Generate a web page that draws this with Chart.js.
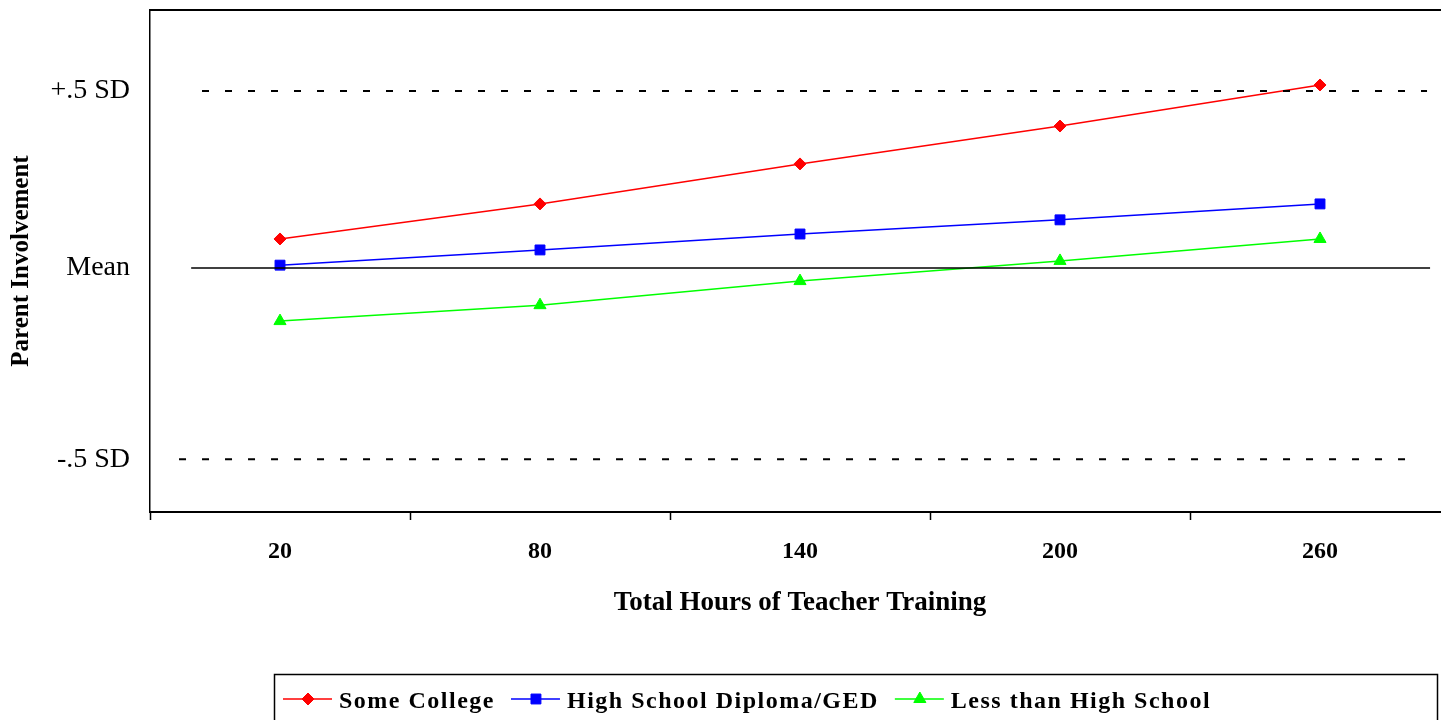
<!DOCTYPE html>
<html>
<head>
<meta charset="utf-8">
<script src="https://cdn.jsdelivr.net/npm/chart.js@4/dist/chart.umd.min.js"></script>
<style>
    html, body { margin: 0; padding: 0; background: #fff; overflow: hidden; }
    #wrap { width: 1458px; height: 720px; }
</style>
</head>
<body>
<div id="wrap"><canvas id="trainingChart" width="1458" height="720"></canvas></div>
<script>
// hours on the x axis
const hours = [20, 80, 140, 200, 260];

// parent involvement, in SD units from the mean
const someCollege = [0.082, 0.181, 0.294, 0.401, 0.517];
const highSchool = [0.008, 0.051, 0.096, 0.136, 0.181];
const lessThanHS = [-0.150, -0.105, -0.037, 0.020, 0.082];

const seriesNames = ['Some College', 'High School Diploma/GED', 'Less than High School'];

// y axis labels
const yTickValues = [0.5, 0, -0.54];
const yTickLabels = ['+.5 SD', 'Mean', '-.5 SD'];

// reference lines: level, start hour, end hour
const refLevels = [0.5, 0, -0.54];
const refFrom = [2, -0.5, -3.3];
const refTo = [284.7, 285.4, 280.8];

const serif = "'Liberation Serif', 'Times New Roman', serif";

function toPoints(values) {
    return values.map((v, i) => ({ x: hours[i], y: v }));
}

function refLine(i) {
    return {
        data: [{ x: refFrom[i], y: refLevels[i] }, { x: refTo[i], y: refLevels[i] }],
        borderColor: '#000',
        borderWidth: refLevels[i] === 0 ? 1.5 : 2,
        borderDash: refLevels[i] === 0 ? [] : [7, 16],
        pointRadius: 0,
        xAxisID: 'x2',
        isRef: true
    };
}

function series(i, values, color, style, radius) {
    return {
        label: seriesNames[i],
        data: toPoints(values),
        borderColor: color,
        backgroundColor: color,
        borderWidth: 1.5,
        pointStyle: style,
        pointRadius: radius,
        pointBorderWidth: 1,
        xAxisID: 'x2'
    };
}

// top border of the plot frame
const frameTop = {
    id: 'frameTop',
    afterDraw(chart) {
        const { ctx, chartArea } = chart;
        ctx.save();
        ctx.strokeStyle = '#000';
        ctx.lineWidth = 2;
        ctx.beginPath();
        ctx.moveTo(chartArea.left - 1, chartArea.top);
        ctx.lineTo(chartArea.right, chartArea.top);
        ctx.stroke();
        ctx.restore();
    }
};

// boxed legend with a line and marker per series
const lineLegend = {
    id: 'lineLegend',
    afterDraw(chart) {
        const ctx = chart.ctx;
        const items = chart.data.datasets.filter(d => !d.isRef);
        ctx.save();
        ctx.strokeStyle = '#000';
        ctx.lineWidth = 1.5;
        ctx.strokeRect(274.5, 674.5, 1163, 80);

        ctx.font = 'bold 24px ' + serif;
        ctx.letterSpacing = '1.5px';
        ctx.textBaseline = 'alphabetic';
        ctx.textAlign = 'left';
        let x = 283;
        const lineY = 699;
        items.forEach(d => {
            ctx.strokeStyle = d.borderColor;
            ctx.fillStyle = d.backgroundColor;
            ctx.lineWidth = 1.5;
            ctx.beginPath();
            ctx.moveTo(x, lineY);
            ctx.lineTo(x + 49, lineY);
            ctx.stroke();
            ctx.lineWidth = 1;
            Chart.helpers.drawPoint(ctx, {
                pointStyle: d.pointStyle,
                radius: d.pointRadius,
                borderWidth: 1,
                rotation: 0
            }, x + 25, lineY);
            ctx.fillStyle = '#000';
            ctx.fillText(d.label, x + 56, 708);
            x += 56 + ctx.measureText(d.label).width + 16;
        });
        ctx.restore();
    }
};

function noPad(scale) {
    scale.paddingTop = 0;
    scale.paddingBottom = 0;
    scale.paddingLeft = 0;
    scale.paddingRight = 0;
}

const ctx = document.getElementById('trainingChart').getContext('2d');
new Chart(ctx, {
    type: 'line',
    data: {
        labels: hours.map(String),
        datasets: [
            refLine(0), refLine(1), refLine(2),
            series(0, someCollege, '#ff0000', 'rectRot', 6),
            series(1, highSchool, '#0000ff', 'rect', 7),
            series(2, lessThanHS, '#00ff00', 'triangle', 7)
        ]
    },
    options: {
        responsive: false,
        animation: false,
        layout: { padding: { left: 0, top: 10, right: 2, bottom: 100 } },
        plugins: {
            legend: { display: false },
            tooltip: { enabled: false }
        },
        scales: {
            x: {
                type: 'category',
                offset: true,
                grid: {
                    offset: true,
                    drawOnChartArea: false,
                    drawTicks: true,
                    tickLength: 8,
                    tickWidth: 1.5,
                    tickColor: '#000'
                },
                border: { color: '#000', width: 2 },
                ticks: {
                    color: '#000',
                    padding: 17,
                    maxRotation: 0,
                    font: { family: serif, size: 24, weight: 'bold' }
                },
                title: {
                    display: true,
                    text: 'Total Hours of Teacher Training',
                    color: '#000',
                    padding: { top: 0, bottom: 1 },
                    font: { family: serif, size: 27, weight: 'bold' }
                },
                afterFit(scale) { scale.height = 108; noPad(scale); }
            },
            x2: {
                type: 'linear',
                display: false,
                min: -10,
                max: 290
            },
            y: {
                min: -0.6893,
                max: 0.7288,
                grid: { drawOnChartArea: false, drawTicks: false },
                border: { color: '#000', width: 1.5 },
                afterBuildTicks(scale) {
                    scale.ticks = yTickValues.map(v => ({ value: v }));
                },
                ticks: {
                    color: '#000',
                    padding: 20,
                    font: { family: serif, size: 28 },
                    callback(value) {
                        const i = yTickValues.indexOf(value);
                        return i >= 0 ? yTickLabels[i] : '';
                    }
                },
                title: {
                    display: true,
                    text: 'Parent Involvement',
                    color: '#000',
                    padding: { top: 7, bottom: 0 },
                    font: { family: serif, size: 25, weight: 'bold' }
                },
                afterFit(scale) { scale.width = 150; noPad(scale); }
            }
        }
    },
    plugins: [frameTop, lineLegend]
});
</script>
</body>
</html>
